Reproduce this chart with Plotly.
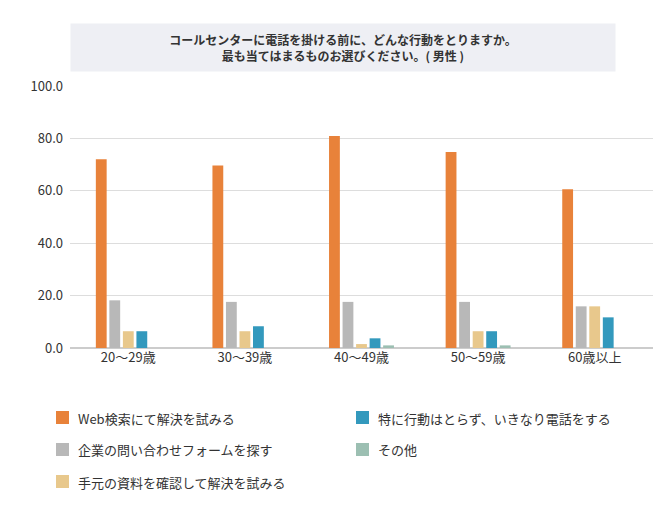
import plotly.graph_objects as go

categories = ["20～29歳", "30～39歳", "40～49歳", "50～59歳", "60歳以上"]
series_names = ["Web検索にて解決を試みる", "企業の問い合わせフォームを探す", "手元の資料を確認して解決を試みる",
                "特に行動はとらず、いきなり電話をする", "その他"]
web = [72.0, 69.7, 80.9, 74.8, 60.6]
form = [18.2, 17.6, 17.6, 17.6, 15.9]
docs = [6.4, 6.4, 1.5, 6.4, 15.9]
call = [6.4, 8.3, 3.7, 6.4, 11.7]
other = [0.0, 0.0, 1.0, 1.0, 0.0]
colors = ["#E8823A", "#B8B8B8", "#E8C88C", "#3399BD", "#9CBFB2"]

W, H = 671, 521
ml, mr, mt, mb = 62, 26, 78, 181
pw, ph = W - ml - mr, H - mt - mb

fig = go.Figure()
for name, vals, c in zip(series_names, [web, form, docs, call, other], colors):
    fig.add_bar(x=categories, y=vals, name=name, marker_color=c, marker_line_width=0)

font = "Noto Sans CJK JP"
# manual legend: (column px, row px) for each series
leg_pos = [(55, 410), (55, 442), (55, 474), (355, 410), (355, 442)]
shapes, annos = [], []
for (px, py), name, c in zip(leg_pos, series_names, colors):
    x0 = (px - 7 - ml) / pw; x1 = (px + 6 - ml) / pw
    y0 = (mt + ph - py - 6) / ph; y1 = (mt + ph - py + 7) / ph
    shapes.append(dict(type="rect", xref="paper", yref="paper", x0=x0, x1=x1, y0=y0, y1=y1,
                       fillcolor=c, line_width=0))
    annos.append(dict(text=name, xref="paper", yref="paper", x=(px + 13 - ml) / pw,
                      y=(mt + ph - py) / ph, xanchor="left", yanchor="middle", showarrow=False,
                      font=dict(size=13, color="#333")))
annos.append(dict(
    text="<b>コールセンターに電話を掛ける前に、どんな行動をとりますか。<br>最も当てはまるものお選びください。( 男性 )</b>",
    xref="paper", yref="paper", x=(335 - ml) / pw, y=1.0, xanchor="center", yanchor="bottom",
    yshift=14, showarrow=False, font=dict(size=12, color="#333"),
    bgcolor="#eeeff4", borderpad=7, width=530, align="center"))

fig.update_layout(
    width=W, height=H, plot_bgcolor="white", paper_bgcolor="white",
    font=dict(family=font, size=13, color="#333"),
    margin=dict(l=ml, r=mr, t=mt, b=mb),
    barmode="group", bargap=0.42, bargroupgap=0.2, showlegend=False,
    yaxis=dict(range=[0, 100], dtick=20, tickformat=".1f", gridcolor="#dddddd",
               ticks="", zeroline=True, zerolinecolor="#cccccc", ticklabelstandoff=6,
               automargin=False, tickfont=dict(size=13)),
    xaxis=dict(showline=False, ticks="", automargin=False, tickfont=dict(size=13)),
    shapes=shapes, annotations=annos,
)
fig.write_html("out.html")
